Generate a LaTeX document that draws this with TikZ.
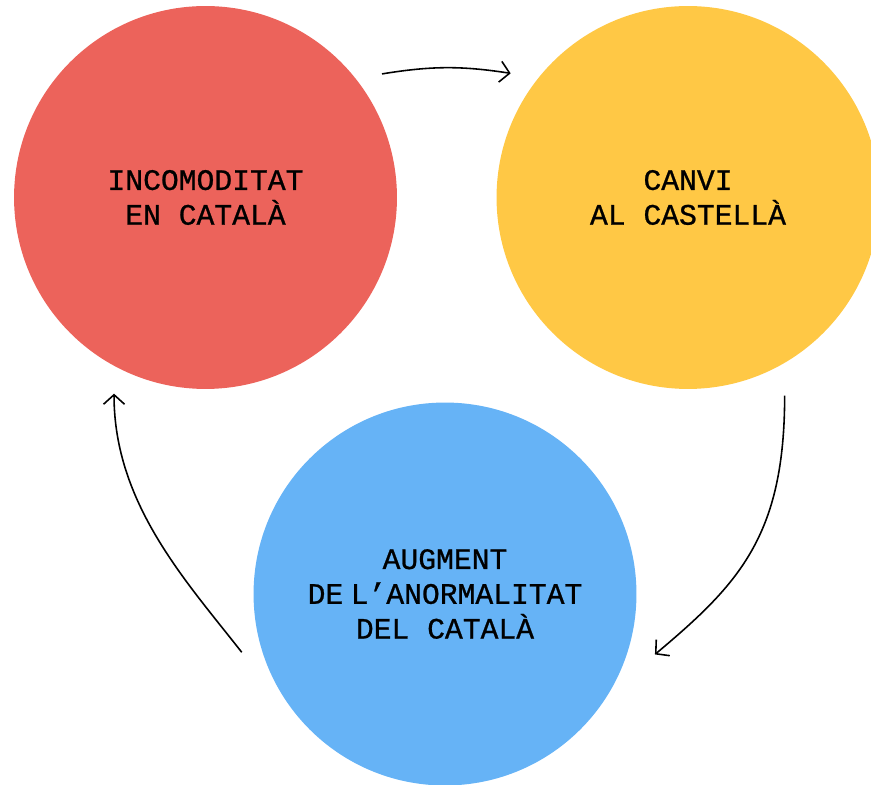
\documentclass[tikz,border=0pt]{standalone}
\usepackage{fontspec}
\newfontfamily\cyclefont{Liberation Mono}[FakeBold=0.8]
\usepackage{tikz}
\usetikzlibrary{arrows.meta}

\definecolor{cyclered}{HTML}{EC635B}
\definecolor{cycleyellow}{HTML}{FFC845}
\definecolor{cycleblue}{HTML}{66B3F6}

\tikzset{
    cyclenode/.style={circle,inner sep=0pt,outer sep=0pt,minimum size=7.66cm,
        align=center,font=\cyclefont\fontsize{16.9}{19.8}\selectfont},
    cyclearrow/.style={line width=0.9pt,-{Straight Barb[length=0.19cm,width=0.42cm]}}
}

\begin{document}
\begin{tikzpicture}[x=0.02cm,y=0.02cm]
    \useasboundingbox (0,0) rectangle (871,784);

    \node[cyclenode,fill=cyclered] (red) at (205.5,586.5) {INCOMODITAT\\EN CATALÀ};
    \node[cyclenode,fill=cycleyellow] (yellow) at (688,586.5) {CANVI\\AL CASTELLÀ};
    \node[cyclenode,fill=cycleblue] (blue) at (445,190) {AUGMENT\\DE\kern-0.35em\ L’ANORMALITAT\\DEL CATALÀ};

    \draw[cyclearrow] ([shift={(35:24)}]red.35) to[bend left=9] ([shift={(145:25)}]yellow.145);
    \draw[cyclearrow] ([shift={(-64:29)}]yellow.-64) to[out=-90,in=40,out distance=2.8cm,in distance=2.2cm] ([shift={(-16.5:27)}]blue.-16.5);
    \draw[cyclearrow] ([shift={(196:20)}]blue.196) to[out=128,in=-90,out distance=1.8cm,in distance=2.2cm] ([shift={(245:25)}]red.245);
\end{tikzpicture}
\end{document}
